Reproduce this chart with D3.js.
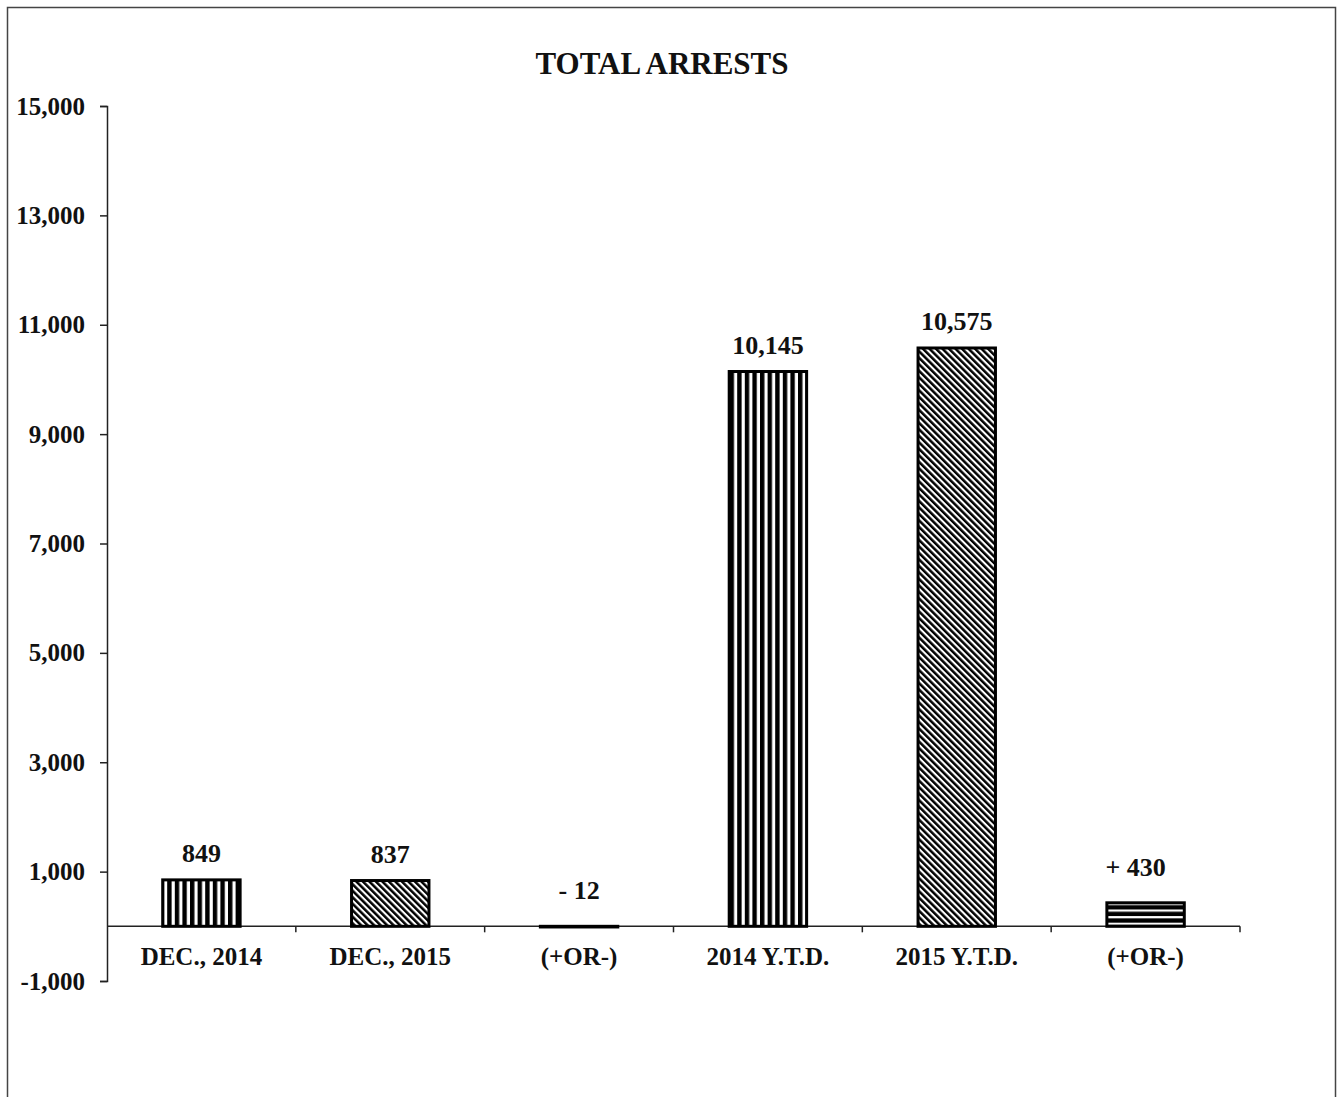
<!DOCTYPE html>
<html>
<head>
<meta charset="utf-8">
<script src="https://cdn.jsdelivr.net/npm/d3@7"></script>
<style>
  html, body { margin: 0; padding: 0; background: #fff; }
  svg { display: block; }
  text { font-family: "Liberation Serif", "Times New Roman", serif; font-weight: bold; fill: #111; }
</style>
</head>
<body>
<svg id="chart" width="1337" height="1097"></svg>
<script>
// ---- data ----
const title = "TOTAL ARRESTS";
const categories = ["DEC., 2014", "DEC., 2015", "(+OR-)", "2014 Y.T.D.", "2015 Y.T.D.", "(+OR-)"];
const values = [849, 837, -12, 10145, 10575, 430];
const valueLabels = ["849", "837", "- 12", "10,145", "10,575", "+ 430"];
const patterns = ["vstripes", "diag", "vstripes", "vstripes", "diag", "hstripes"];
const yTicks = [-1000, 1000, 3000, 5000, 7000, 9000, 11000, 13000, 15000];

const plot = { left: 107, right: 1240, top: 106, bottom: 981 };

const svg = d3.select("#chart");

// frame
svg.append("rect")
  .attr("x", 7.5).attr("y", 7.5)
  .attr("width", 1328).attr("height", 1200)
  .attr("fill", "none").attr("stroke", "#444").attr("stroke-width", 1.5);

// patterns
const defs = svg.append("defs");
const pv = defs.append("pattern").attr("id", "vstripes")
  .attr("patternUnits", "userSpaceOnUse").attr("width", 7.6).attr("height", 10);
pv.append("rect").attr("width", 7.6).attr("height", 10).attr("fill", "#fff");
pv.append("rect").attr("width", 4.4).attr("height", 10).attr("fill", "#000");

const pd = defs.append("pattern").attr("id", "diag")
  .attr("patternUnits", "userSpaceOnUse").attr("width", 4.6).attr("height", 10)
  .attr("patternTransform", "rotate(-45)");
pd.append("rect").attr("width", 4.6).attr("height", 10).attr("fill", "#fff");
pd.append("rect").attr("width", 2.5).attr("height", 10).attr("fill", "#000");

const ph = defs.append("pattern").attr("id", "hstripes")
  .attr("patternUnits", "userSpaceOnUse").attr("width", 10).attr("height", 6.6)
  .attr("y", 1.5);
ph.append("rect").attr("width", 10).attr("height", 6.6).attr("fill", "#000");
ph.append("rect").attr("y", 3.8).attr("width", 10).attr("height", 2.2).attr("fill", "#fff");

// scales
const x = d3.scaleBand()
  .domain(d3.range(categories.length))
  .range([plot.left, plot.right])
  .paddingInner(0.59)
  .paddingOuter(0.295);
const y = d3.scaleLinear().domain([-1000, 15000]).range([plot.bottom, plot.top]);

// title
svg.append("text")
  .attr("x", 662).attr("y", 74)
  .attr("text-anchor", "middle")
  .style("font-size", "31px")
  .text(title);

// y axis
const fmt = d => d3.format(",")(d).replace("\u2212", "-");
const yAxis = d3.axisLeft(y).tickValues(yTicks).tickFormat(fmt).tickSize(7).tickPadding(15);
const gy = svg.append("g").attr("transform", `translate(${plot.left},0)`).call(yAxis);
gy.select(".domain").attr("stroke", "#222").attr("stroke-width", 1.5);
gy.selectAll(".tick line").attr("stroke", "#222").attr("stroke-width", 1.5);
gy.selectAll(".tick text")
  .style("font-size", "25px")
  .style("font-family", "'Liberation Serif', 'Times New Roman', serif")
  .style("font-weight", "bold")
  .attr("fill", "#111");

// x axis (at zero)
const y0 = y(0);
svg.append("line")
  .attr("x1", plot.left).attr("x2", plot.right)
  .attr("y1", y0).attr("y2", y0)
  .attr("stroke", "#222").attr("stroke-width", 1.5);
const step = x.step();
svg.append("g").selectAll("line")
  .data(d3.range(1, categories.length + 1))
  .join("line")
  .attr("x1", i => plot.left + i * step).attr("x2", i => plot.left + i * step)
  .attr("y1", y0).attr("y2", y0 + 6)
  .attr("stroke", "#222").attr("stroke-width", 1.5);

svg.append("g").selectAll("text")
  .data(categories)
  .join("text")
  .attr("x", (d, i) => x(i) + x.bandwidth() / 2)
  .attr("y", 965)
  .attr("text-anchor", "middle")
  .style("font-size", "25px")
  .text(d => d);

// bars
svg.append("g").selectAll("rect")
  .data(values)
  .join("rect")
  .attr("x", (d, i) => x(i))
  .attr("width", x.bandwidth())
  .attr("y", d => y(Math.max(0, d)))
  .attr("height", d => Math.abs(y(d) - y(0)))
  .attr("fill", (d, i) => `url(#${patterns[i]})`)
  .attr("stroke", "#000")
  .attr("stroke-width", 3);

// value labels
svg.append("g").selectAll("text")
  .data(values)
  .join("text")
  .attr("x", (d, i) => x(i) + x.bandwidth() / 2 + (i === 5 ? -10 : 0))
  .attr("y", d => y(Math.max(0, d)) - (Math.abs(d) < 500 ? 27 : 17.5))
  .attr("text-anchor", "middle")
  .style("font-size", "26px")
  .text((d, i) => valueLabels[i]);
</script>
</body>
</html>
